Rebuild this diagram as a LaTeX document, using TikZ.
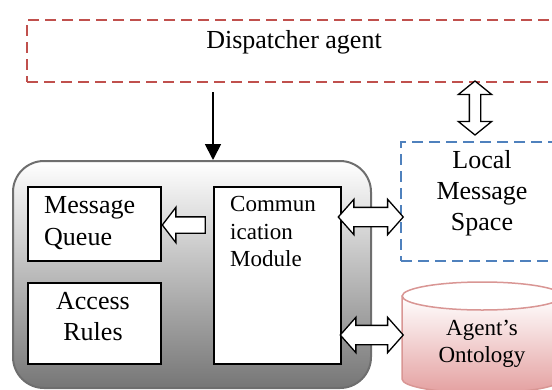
\documentclass[tikz,border=0pt]{standalone}
\usepackage{fontspec}
\setmainfont{Liberation Serif}
\usetikzlibrary{shapes.arrows,calc,arrows.meta}
\definecolor{dispred}{RGB}{192,80,77}
\definecolor{lmsblue}{RGB}{79,129,189}
\definecolor{ontoline}{RGB}{217,150,148}
\definecolor{ontofill}{RGB}{228,160,160}
\definecolor{agentedge}{RGB}{110,110,110}
\definecolor{agentdark}{RGB}{118,118,118}

\begin{document}
\begin{tikzpicture}[x=1pt,y=-1pt,
  big/.style={font=\fontsize{26}{31}\selectfont, inner sep=0pt},
  mid/.style={font=\fontsize{23}{27.5}\selectfont, inner sep=0pt},
  dashbox/.style={line width=2pt, dash pattern=on 11pt off 6pt, inner sep=0pt, anchor=north west},
  innerbox/.style={draw=black, line width=1.5pt, fill=white, inner sep=0pt, anchor=north west},
  blockarrow/.style={draw=black, line width=1.3pt, fill=white, inner sep=0pt},
  ontoedge/.style={draw=ontoline, line width=1.5pt},
]
\useasboundingbox (0,0) rectangle (552,389);
\clip (0,0) rectangle (552,389);

% dispatcher and local message space (dashed frames)
\node[dashbox, draw=dispred, minimum width=536, minimum height=62] (disp) at (26,19) {};
\node[big] (disptext) at (294,42.5) {Dispatcher agent};
\node[dashbox, draw=lmsblue, minimum width=164, minimum height=119] (lms) at (400,141) {};
\node[big, align=center] (lmstext) at (482,193.5) {Local\\Message\\Space};

% agent body with its modules
\node[draw=agentedge, line width=2pt, rounded corners=31pt, top color=white,
      bottom color=agentdark, minimum width=358, minimum height=227,
      anchor=north west, inner sep=0pt] (agent) at (12,160) {};
\node[innerbox, minimum width=133, minimum height=74] (mq) at (27,186) {};
\node[big, align=left, anchor=west, font=\fontsize{26}{32}\selectfont] (mqtext) at (44,223) {Message\\Queue};
\node[innerbox, minimum width=133, minimum height=81] (ar) at (27,282) {};
\node[big, align=center] (artext) at (93,317) {Access\\Rules};
\node[innerbox, minimum width=127, minimum height=177] (comm) at (213,186) {};
\node[mid, align=left, anchor=west] (commtext) at (230,231.5) {Commun\\ication\\Module};

% ontology cylinder
\node[minimum width=160, minimum height=111, anchor=north west, inner sep=0pt] (onto) at (402,282) {};
\draw[ontoedge, top color=white, bottom color=ontofill]
  ($(onto.north west)+(0,14)$) -- ($(onto.north west)+(0,97)$)
  arc[start angle=180, end angle=0, x radius=80, y radius=14]
  -- ($(onto.north east)+(0,14)$) -- cycle;
\draw[ontoedge, fill=white] ($(onto.north)+(0,14)$) ellipse [x radius=80, y radius=14];
\node[mid, align=center, font=\fontsize{23}{27}\selectfont] (ontotext) at (482,344) {Agent’s\\Ontology};

% connectors
\coordinate (dstart) at (213,92);
\draw[line width=1.8pt, -{Triangle[length=16pt,width=16pt]}] (dstart) -- (dstart |- agent.north);

\coordinate (qy) at (0,225);
\node[blockarrow, single arrow, shape border rotate=180, minimum height=43,
      inner ysep=7.5pt, single arrow head extend=9.5pt, single arrow tip angle=105,
      anchor=tip] (c2q) at (mq.east |- qy) {};

\coordinate (ly) at (0,217);
\node[blockarrow, double arrow, minimum height=65, inner ysep=9pt,
      double arrow head extend=8pt, double arrow tip angle=97]
      (c2l) at ($(comm.east |- ly)!0.5!(lms.west |- ly)$) {};

\coordinate (oy) at (0,335);
\node[blockarrow, double arrow, minimum height=63, inner ysep=9pt,
      double arrow head extend=8pt, double arrow tip angle=97]
      (c2o) at ($(comm.east |- oy)!0.5!(onto.west |- oy)$) {};

\node[blockarrow, double arrow, rotate=90, minimum height=54, inner ysep=5pt,
      double arrow head extend=11pt, double arrow tip angle=102]
      (d2l) at (475,108) {};
\end{tikzpicture}
\end{document}
